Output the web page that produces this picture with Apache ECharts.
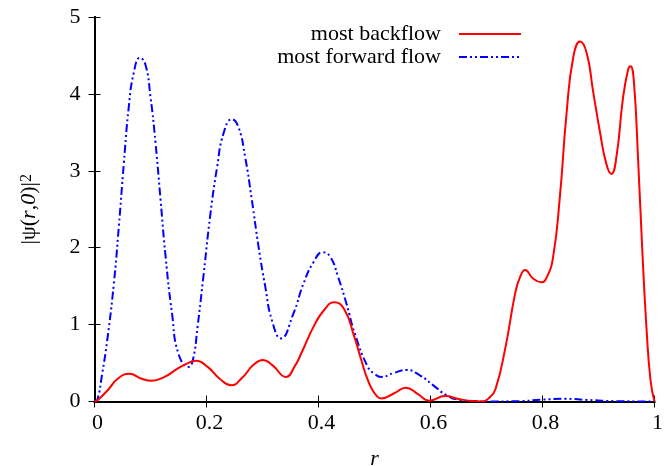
<!DOCTYPE html>
<html>
<head>
<meta charset="utf-8">
<script src="https://cdn.jsdelivr.net/npm/echarts@6/dist/echarts.min.js"></script>
<style>
  html, body { margin: 0; padding: 0; background: #fff; }
  #chart { width: 671px; height: 466px; }
</style>
</head>
<body>
<div id="chart"></div>
<script>
// Radial probability density |psi(r,0)|^2 for the two optimal states
const seriesNames = ['most backflow', 'most forward flow'];

const rBack = [0, 0.006, 0.024, 0.042, 0.0625, 0.083, 0.102, 0.125, 0.149, 0.167, 0.1815, 0.202,
  0.223, 0.244, 0.265, 0.283, 0.3006, 0.318, 0.342, 0.357, 0.372, 0.391, 0.409, 0.428, 0.446,
  0.464, 0.476, 0.488, 0.500, 0.512, 0.536, 0.556, 0.577, 0.598, 0.626, 0.652, 0.675, 0.692,
  0.705, 0.716, 0.734, 0.751, 0.760, 0.769, 0.783, 0.798, 0.808, 0.819, 0.831, 0.843, 0.855,
  0.867, 0.879, 0.890, 0.902, 0.914, 0.923, 0.932, 0.944, 0.953, 0.957, 0.963, 0.971, 0.978,
  0.986, 0.993, 1.0];
const vBack = [0, 0.02, 0.15, 0.30, 0.36, 0.30, 0.27, 0.32, 0.43, 0.50, 0.53, 0.45,
  0.30, 0.21, 0.32, 0.47, 0.54, 0.47, 0.32, 0.45, 0.67, 0.97, 1.18, 1.29, 1.20,
  0.84, 0.55, 0.28, 0.11, 0.04, 0.11, 0.18, 0.10, 0.01, 0.07, 0.03, 0.005, 0.0,
  0.05, 0.16, 0.71, 1.40, 1.62, 1.71, 1.60, 1.55, 1.62, 1.88, 2.66, 3.75, 4.48,
  4.68, 4.53, 4.05, 3.53, 3.09, 2.96, 3.18, 3.96, 4.32, 4.36, 4.18, 3.10, 2.00,
  0.92, 0.27, 0];

const rFwd = [0, 0.005, 0.0137, 0.0226, 0.0345, 0.0434, 0.0523, 0.0612, 0.070, 0.081, 0.091, 0.100,
  0.109, 0.118, 0.127, 0.1385, 0.150, 0.168, 0.176, 0.184, 0.195, 0.207, 0.219, 0.2305, 0.2454,
  0.257, 0.269, 0.281, 0.293, 0.305, 0.317, 0.333, 0.355, 0.373, 0.391, 0.4076, 0.421, 0.435,
  0.450, 0.465, 0.488, 0.500, 0.512, 0.534, 0.557, 0.581, 0.605, 0.629, 0.652, 0.676, 0.70,
  0.76, 0.80, 0.84, 0.88, 0.93, 1.0];
const vFwd = [0, 0.02, 0.36, 0.79, 1.53, 2.27, 3.09, 3.83, 4.27, 4.47, 4.38, 3.96,
  3.36, 2.62, 1.88, 1.14, 0.62, 0.45, 0.55, 0.97, 1.66, 2.44, 3.05, 3.49, 3.67,
  3.57, 3.18, 2.62, 2.01, 1.49, 1.05, 0.82, 1.14, 1.53, 1.81, 1.94, 1.88, 1.62,
  1.27, 0.88, 0.45, 0.36, 0.32, 0.37, 0.41, 0.34, 0.21, 0.08, 0.02, 0.005, 0,
  0.005, 0.025, 0.035, 0.02, 0.005, 0];

const xTicks = [0, 0.2, 0.4, 0.6, 0.8, 1];
const yTicks = [0, 1, 2, 3, 4, 5];

const pairs = (xs, ys) => xs.map((x, i) => [x, ys[i]]);
const FONT = 'Liberation Serif';

// Closed frame: every side carries the axis line with inward ticks
const frameAxis = (extra) => Object.assign({
  type: 'value',
  axisLine: { show: true, lineStyle: { color: '#000', width: 2 } },
  axisTick: { show: true, inside: true, length: 6, lineStyle: { color: '#000', width: 1 } },
  splitLine: { show: false }
}, extra);

const chart = echarts.init(document.getElementById('chart'), null, { renderer: 'canvas' });
chart.setOption({
  animation: false,
  backgroundColor: '#fff',
  grid: { left: 94.5, right: 16.5, top: 17, bottom: 64.5, containLabel: false, outerBoundsMode: 'none' },
  legend: {
    orient: 'vertical',
    right: 149,
    top: 23,
    padding: 0,
    align: 'right',
    itemWidth: 62,
    itemHeight: 14,
    itemGap: 1,
    data: seriesNames,
    itemStyle: { opacity: 0 },
    textStyle: { fontFamily: FONT, fontSize: 22, color: '#000', padding: [0, 13, 0, 0] }
  },
  xAxis: [
    frameAxis({
      min: xTicks[0], max: xTicks[xTicks.length - 1], interval: 0.2,
      position: 'bottom',
      name: 'r',
      nameLocation: 'middle',
      nameGap: 47,
      nameTextStyle: { fontFamily: FONT, fontSize: 22, fontStyle: 'italic', color: '#000' },
      axisLabel: { fontFamily: FONT, fontSize: 22, color: '#000', margin: 11, padding: [0, 0, 0, 6] }
    }),
    frameAxis({
      min: xTicks[0], max: xTicks[xTicks.length - 1], interval: 0.2,
      position: 'top',
      axisLabel: { show: false }
    })
  ],
  yAxis: [
    frameAxis({
      min: yTicks[0], max: yTicks[yTicks.length - 1], interval: 1,
      position: 'left',
      name: '{a||ψ(}{i|r}{a|,}{i|0}{a|)|}{s|2}',
      nameLocation: 'middle',
      nameGap: 54,
      nameTextStyle: {
        color: '#000',
        rich: {
          a: { fontFamily: FONT, fontSize: 22, color: '#000' },
          i: { fontFamily: FONT, fontSize: 22, fontStyle: 'italic', color: '#000' },
          s: { fontFamily: FONT, fontSize: 16, color: '#000', verticalAlign: 'top' }
        }
      },
      axisLabel: { fontFamily: FONT, fontSize: 22, color: '#000', margin: 14 }
    }),
    frameAxis({
      min: yTicks[0], max: yTicks[yTicks.length - 1], interval: 1,
      position: 'right',
      axisLabel: { show: false }
    })
  ],
  series: [
    {
      name: seriesNames[0],
      type: 'line',
      xAxisIndex: 0, yAxisIndex: 0,
      data: pairs(rBack, vBack),
      smooth: 0.5,
      symbol: 'none',
      color: '#ff0000',
      lineStyle: { color: '#ff0000', width: 2 },
      z: 3
    },
    {
      name: seriesNames[1],
      type: 'line',
      xAxisIndex: 0, yAxisIndex: 0,
      data: pairs(rFwd, vFwd),
      smooth: 0.5,
      symbol: 'none',
      color: '#0000ff',
      lineStyle: { color: '#0000ff', width: 2, type: [8, 3, 2, 3, 2, 3] },
      z: 2
    }
  ]
});
</script>
</body>
</html>
